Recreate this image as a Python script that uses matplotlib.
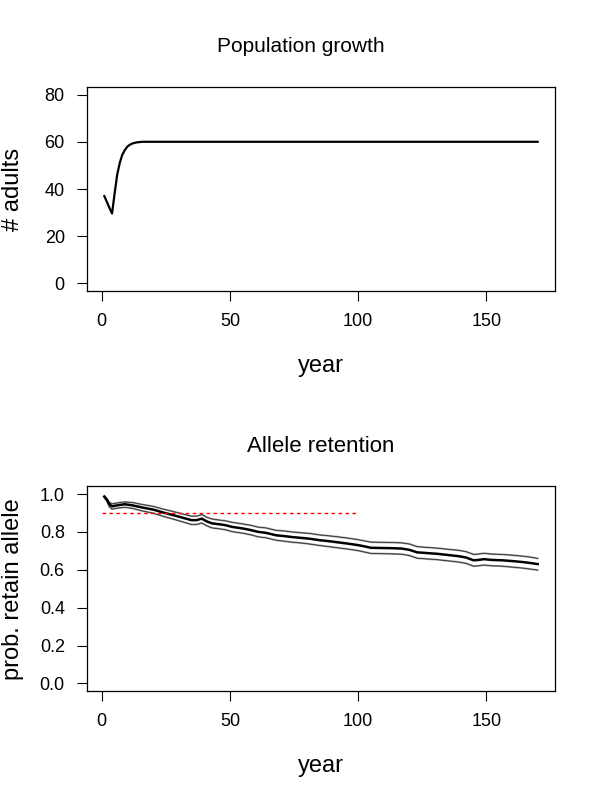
import matplotlib
matplotlib.use("Agg")
import matplotlib.pyplot as plt

plt.rcParams['font.family'] = ['Liberation Sans', 'DejaVu Sans']

# population growth
pop_years = [1, 2, 3, 4, 5, 6, 7, 8, 9, 10, 11, 12, 13, 14, 15, 16, 20, 170]
pop_adults = [37, 34.5, 32, 29.6, 38, 46, 51, 54.5, 56.5, 58, 58.8, 59.3, 59.6, 59.8, 59.9, 60, 60, 60]

# allele retention
ret_years = [1, 2, 3, 4, 6, 9, 12, 16, 20, 24, 28, 32, 35, 37, 39, 41, 43, 46, 48, 51,
             55, 58, 61, 64, 68, 71, 74, 78, 81, 85, 88, 92, 96, 100, 103, 105, 109, 113,
             117, 120, 123, 127, 131, 135, 139, 142, 145, 147, 149, 152, 156, 160, 164, 167, 170]
ret_mean = [0.986, 0.97, 0.945, 0.935, 0.94, 0.946, 0.94, 0.928, 0.918, 0.902, 0.888, 0.873,
            0.862, 0.862, 0.870, 0.855, 0.845, 0.840, 0.836, 0.826, 0.818, 0.810, 0.800, 0.795,
            0.782, 0.778, 0.773, 0.768, 0.764, 0.756, 0.752, 0.745, 0.738, 0.730, 0.722, 0.716,
            0.715, 0.714, 0.712, 0.705, 0.692, 0.688, 0.684, 0.678, 0.672, 0.665, 0.650, 0.652,
            0.656, 0.652, 0.650, 0.646, 0.641, 0.636, 0.630]
ret_upper = [0.99, 0.975, 0.955, 0.948, 0.953, 0.958, 0.955, 0.944, 0.935, 0.92, 0.907, 0.893,
             0.883, 0.883, 0.891, 0.877, 0.868, 0.862, 0.859, 0.85, 0.842, 0.835, 0.825, 0.821,
             0.808, 0.805, 0.80, 0.795, 0.792, 0.784, 0.78, 0.774, 0.767, 0.759, 0.751, 0.746,
             0.745, 0.744, 0.742, 0.736, 0.722, 0.718, 0.714, 0.708, 0.703, 0.696, 0.681, 0.683,
             0.687, 0.683, 0.681, 0.677, 0.672, 0.667, 0.66]
ret_lower = [0.982, 0.962, 0.932, 0.92, 0.925, 0.93, 0.924, 0.91, 0.899, 0.882, 0.867, 0.851,
             0.839, 0.839, 0.847, 0.832, 0.821, 0.816, 0.812, 0.801, 0.793, 0.785, 0.774, 0.769,
             0.756, 0.751, 0.746, 0.741, 0.736, 0.728, 0.723, 0.716, 0.709, 0.701, 0.692, 0.686,
             0.685, 0.684, 0.682, 0.675, 0.661, 0.657, 0.653, 0.647, 0.641, 0.634, 0.619, 0.621,
             0.625, 0.621, 0.619, 0.614, 0.609, 0.604, 0.598]
target_x = [0, 100]
target_y = [0.9, 0.9]

fig = plt.figure(figsize=(6, 7.99), dpi=100)
ax1 = fig.add_axes([0.145, 0.6358, 0.78, 0.2553])
ax2 = fig.add_axes([0.145, 0.1352, 0.78, 0.2560])

xlim = (1 - 0.04 * 169, 170 + 0.04 * 169)

ax1.plot(pop_years, pop_adults, color='black', lw=1.6)
ax1.set_xlim(xlim)
ax1.set_ylim(-3.2, 83.2)
ax1.set_yticks([0, 20, 40, 60, 80])
ax1.set_ylabel("# adults", fontsize=17)
ax1.set_xlabel("year", fontsize=17, labelpad=18)
# title sits a little left of the plot centre, as in the source
fig.text(0.502, 1 - 47 / 799, "Population growth", fontsize=15, ha='center', va='center')

ax2.plot(ret_years, ret_upper, color='#999999', lw=1.4)
ax2.plot(ret_years, ret_upper, color='#222222', lw=0.5)
ax2.plot(ret_years, ret_lower, color='#999999', lw=1.4)
ax2.plot(ret_years, ret_lower, color='#222222', lw=0.5)
ax2.plot(ret_years, ret_mean, color='black', lw=1.8)
ax2.plot(target_x, target_y, color='#ff0000', lw=1.0, linestyle=(0, (2.5, 2.5)))
ax2.set_xlim(xlim)
ax2.set_ylim(-0.04, 1.04)
ax2.set_yticks([0, 0.2, 0.4, 0.6, 0.8, 1.0])
ax2.set_yticklabels(["0.0", "0.2", "0.4", "0.6", "0.8", "1.0"])
ax2.set_ylabel("prob. retain allele", fontsize=17)
ax2.set_xlabel("year", fontsize=17, labelpad=18)
fig.text(0.535, 1 - 446 / 799, "Allele retention", fontsize=16, ha='center', va='center')

for ax in (ax1, ax2):
    ax.set_xticks([0, 50, 100, 150])
    ax.tick_params(direction='out', length=7, width=0.8, labelsize=13, pad=9)
    ax.yaxis.set_label_coords(-0.135, 0.5)
    for s in ax.spines.values():
        s.set_linewidth(0.9)

fig.savefig("out.png", dpi=100)
